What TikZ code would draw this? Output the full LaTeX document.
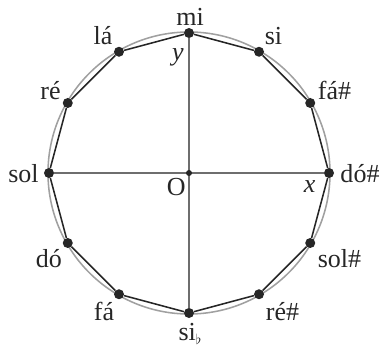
\documentclass[tikz,border=0pt]{standalone}
\usepackage{fontspec}
\setmainfont{Liberation Serif}
\usetikzlibrary{positioning}
\definecolor{ink}{HTML}{262626}
\definecolor{ringgray}{HTML}{A0A0A0}
\definecolor{axisgray}{HTML}{6E6E6E}
\newcommand{\smallflat}{\raisebox{-2.5pt}{\fontsize{10}{10}\selectfont$\flat$}}
\tikzset{
  every node/.style={font=\fontsize{18.5}{20}\selectfont, inner sep=0pt},
  vertex/.style={circle, fill=ink, minimum size=2.5mm, inner sep=0pt},
  origin/.style={circle, fill=ink, minimum size=1.5mm, inner sep=0pt},
  ring/.style={draw=ringgray, line width=1.1pt},
  chord/.style={draw=ink, line width=1.1pt},
  axisline/.style={draw=axisgray, line width=0.8pt},
  notelabel/.style={text=ink, anchor=base},
  varlabel/.style={text=ink, font=\fontsize{18.5}{20}\selectfont\itshape},
}

\begin{document}
\begin{tikzpicture}[x=0.25mm, y=0.25mm]
\useasboundingbox (-189,-172) rectangle (193,173);
\draw[ring] (0,0) circle (141);
% twelve notes round the circle, label shifted from its dot
\foreach \ang/\nm/\txt/\dx/\dy in {90/mi/mi/1/7.3, 60/si/si/14.5/6.8, 30/fas/fá\#/24.3/3,
  0/dos/dó\#/31/-10, -30/sols/sol\#/29.3/-24, -60/res/ré\#/23.5/-25.8,
  -90/sib/si\smallflat/1/-27.5, -120/fa/fá/-15/-25.8, -150/do/dó/-18.8/-24,
  180/sol/sol/-25.5/-10, 150/re/ré/-17.3/3, 120/la/lá/-16/6.8}
{
  \node[vertex] (\nm) at (\ang:140) {};
  \path (\nm) ++(\dx,\dy) node[notelabel] (\nm-lbl) {\txt};
}
\draw[axisline] (sol) -- (dos);
\draw[axisline] (mi) -- (sib);
\draw[chord] (mi) -- (si) -- (fas) -- (dos) -- (sols) -- (res) -- (sib) -- (fa) -- (do) -- (sol) -- (re) -- (la) -- (mi);
\node[origin] (o) at (0,0) {};
\node[notelabel, anchor=north east, below left=0.6mm and 0.2mm of o] (olabel) {O};
\node[varlabel, below left=2.8mm and 0.3mm of mi] (ylabel) {y};
\node[varlabel, below left=0.9mm and 2.4mm of dos] (xlabel) {x};
\end{tikzpicture}
\end{document}
